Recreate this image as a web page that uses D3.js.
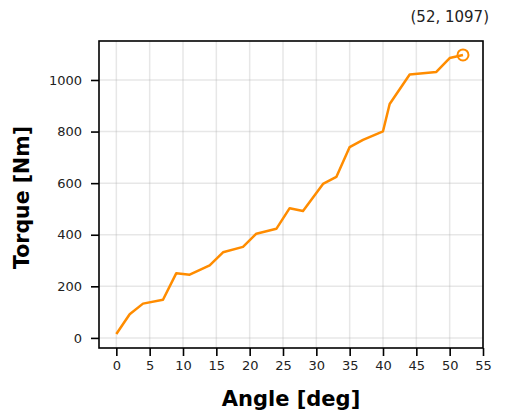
<!DOCTYPE html>
<html><head><meta charset="utf-8">
<script src="https://cdn.jsdelivr.net/npm/d3@7"></script>
<style>body{margin:0;background:#fff}svg{display:block;font-family:"DejaVu Sans",sans-serif}</style>
</head><body>
<svg id="c" width="505" height="415"></svg>
<script>
const angles = [0,2,4,7,9,11,14,16,19,21,24,26,28,31,33,35,37,40,41,44,48,50,52];
const torques = [15,92,133,148,251,245,281,332,353,404,423,503,492,597,624,740,768,801,907,1021,1031,1085,1097];
const xTicks = [0,5,10,15,20,25,30,35,40,45,50,55];
const yTicks = [0,200,400,600,800,1000];
const xLabel = "Angle [deg]";
const yLabel = "Torque [Nm]";

const svg = d3.select("#c");
const L=99,R=483,T=41,B=348;
const yMin=d3.min(torques), yMax=d3.max(torques), yr=yMax-yMin;
const xMin=d3.min(angles), xMax=d3.max(angles), xr=xMax-xMin;
const x = d3.scaleLinear().domain([xMin-0.05*xr, Math.max(xMax+0.05*xr, d3.max(xTicks))]).range([L,R]);
const y = d3.scaleLinear().domain([yMin-0.05*yr, yMax+0.05*yr]).range([B,T]);

// grid
const g = svg.append("g");
g.selectAll(".gx").data(xTicks).join("line").attr("x1",d=>x(d)).attr("x2",d=>x(d)).attr("y1",T).attr("y2",B)
 .attr("stroke","#b0b0b0").attr("stroke-opacity",0.3).attr("stroke-width",1.5);
g.selectAll(".gy").data(yTicks).join("line").attr("y1",d=>y(d)).attr("y2",d=>y(d)).attr("x1",L).attr("x2",R)
 .attr("stroke","#b0b0b0").attr("stroke-opacity",0.3).attr("stroke-width",1.5);

// line
svg.append("path").datum(angles.map((a,i)=>[a,torques[i]]))
 .attr("d", d3.line().x(d=>x(d[0])).y(d=>y(d[1])))
 .attr("fill","none").attr("stroke","#ff8c00").attr("stroke-width",2.5).attr("stroke-linejoin","round");
const li = angles.length-1;
svg.append("circle").attr("cx",x(angles[li])).attr("cy",y(torques[li])).attr("r",5.5)
 .attr("fill","none").attr("stroke","#ff8c00").attr("stroke-width",2);

// axes
const xa = svg.append("g").attr("transform",`translate(0,${B})`)
 .call(d3.axisBottom(x).tickValues(xTicks).tickFormat(d3.format("d")).tickSize(8).tickPadding(5).tickSizeOuter(0));
const ya = svg.append("g").attr("transform",`translate(${L},0)`)
 .call(d3.axisLeft(y).tickValues(yTicks).tickFormat(d3.format("d")).tickSize(8).tickPadding(9).tickSizeOuter(0));
[xa,ya].forEach(a=>{
  a.select(".domain").remove();
  a.selectAll(".tick line").attr("stroke","#000").attr("stroke-width",1.6);
  a.selectAll(".tick text").attr("font-size",13).attr("fill","#222").attr("font-family","DejaVu Sans");
});

// frame
svg.append("rect").attr("x",L).attr("y",T).attr("width",R-L).attr("height",B-T)
 .attr("fill","none").attr("stroke","#000").attr("stroke-width",1.6);

// labels
svg.append("text").attr("x",(L+R)/2).attr("y",406).attr("text-anchor","middle")
 .attr("font-size",21).attr("font-weight","bold").text(xLabel);
svg.append("text").attr("transform",`translate(29,${(T+B)/2+3}) rotate(-90)`).attr("text-anchor","middle")
 .attr("font-size",20.5).attr("font-weight","bold").text(yLabel);

// annotation
svg.append("text").attr("x",489).attr("y",22).attr("text-anchor","end").attr("font-size",15).attr("fill","#222")
 .text(`(${angles[li]}, ${torques[li]})`);
</script>
</body></html>
